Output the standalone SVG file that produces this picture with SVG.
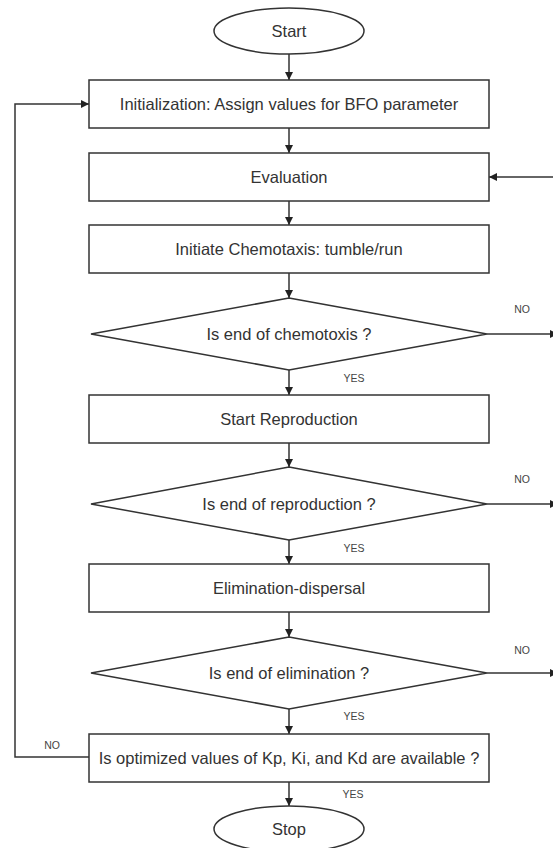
<svg xmlns="http://www.w3.org/2000/svg" width="553" height="848" viewBox="0 0 553 848">
<defs>
<marker id="ah" viewBox="0 0 10 10" refX="10" refY="5" markerWidth="8" markerHeight="8" markerUnits="userSpaceOnUse" orient="auto">
<path d="M0,0 L10,5 L0,10 z" fill="#222"/>
</marker>
</defs>
<style>
.shape{fill:#fff;stroke:#333;stroke-width:1.5}
.lbl{font-family:"Liberation Sans",Arial,sans-serif;font-size:16.5px;fill:#333;text-anchor:middle;dominant-baseline:central}
.sm{font-family:"Liberation Sans",Arial,sans-serif;font-size:10.5px;fill:#444;text-anchor:middle;dominant-baseline:central}
.con{fill:none;stroke:#333;stroke-width:1.5}
.arr{marker-end:url(#ah)}
</style>
<rect width="553" height="848" fill="#fff"/>
<g id="connectors">
<line class="con arr" x1="289" y1="54" x2="289" y2="80"/>
<line class="con arr" x1="289" y1="128" x2="289" y2="153"/>
<line class="con arr" x1="289" y1="201" x2="289" y2="225"/>
<line class="con arr" x1="289" y1="273" x2="289" y2="298"/>
<line class="con arr" x1="289" y1="370" x2="289" y2="395"/>
<line class="con arr" x1="289" y1="443" x2="289" y2="467"/>
<line class="con arr" x1="289" y1="540" x2="289" y2="564"/>
<line class="con arr" x1="289" y1="612" x2="289" y2="637"/>
<line class="con arr" x1="289" y1="709" x2="289" y2="734"/>
<line class="con arr" x1="289" y1="782" x2="289" y2="806"/>
<polyline class="con arr" points="89,757 15,757 15,104 89,104"/>
<line class="con arr" x1="553" y1="177" x2="489" y2="177"/>
<line class="con arr" x1="487" y1="334" x2="558" y2="334"/>
<line class="con arr" x1="487" y1="504" x2="558" y2="504"/>
<line class="con arr" x1="487" y1="673" x2="558" y2="673"/>
<text class="sm" x="522" y="309">NO</text>
<text class="sm" x="522" y="479">NO</text>
<text class="sm" x="522" y="650">NO</text>
<text class="sm" x="52" y="745">NO</text>
<text class="sm" x="354" y="378">YES</text>
<text class="sm" x="354" y="548">YES</text>
<text class="sm" x="354" y="716">YES</text>
<text class="sm" x="353" y="794">YES</text>
</g>
<g id="start">
<ellipse class="shape" cx="289" cy="31" rx="75" ry="23"/>
<text class="lbl" x="289" y="31">Start</text>
</g>
<g id="init">
<rect class="shape" x="89" y="80" width="400" height="48"/>
<text class="lbl" x="289" y="104">Initialization: Assign values for BFO parameter</text>
</g>
<g id="evaluation">
<rect class="shape" x="89" y="153" width="400" height="48"/>
<text class="lbl" x="289" y="177">Evaluation</text>
</g>
<g id="chemotaxis">
<rect class="shape" x="89" y="225" width="400" height="48"/>
<text class="lbl" x="289" y="249">Initiate Chemotaxis: tumble/run</text>
</g>
<g id="d-chemo">
<polygon class="shape" points="289,298 487,334 289,370 91,334"/>
<text class="lbl" x="289" y="334">Is end of chemotoxis ?</text>
</g>
<g id="reproduction">
<rect class="shape" x="89" y="395" width="400" height="48"/>
<text class="lbl" x="289" y="419">Start Reproduction</text>
</g>
<g id="d-repro">
<polygon class="shape" points="289,467 487,504 289,540 91,504"/>
<text class="lbl" x="289" y="504">Is end of reproduction ?</text>
</g>
<g id="elimination">
<rect class="shape" x="89" y="564" width="400" height="48"/>
<text class="lbl" x="289" y="588">Elimination-dispersal</text>
</g>
<g id="d-elim">
<polygon class="shape" points="289,637 487,673 289,709 91,673"/>
<text class="lbl" x="289" y="673">Is end of elimination ?</text>
</g>
<g id="optimized">
<rect class="shape" x="89" y="734" width="400" height="48"/>
<text class="lbl" x="289" y="758">Is optimized values of Kp, Ki, and Kd are available ?</text>
</g>
<g id="stop">
<ellipse class="shape" cx="289" cy="829" rx="75" ry="23"/>
<text class="lbl" x="289" y="829">Stop</text>
</g>
</svg>
